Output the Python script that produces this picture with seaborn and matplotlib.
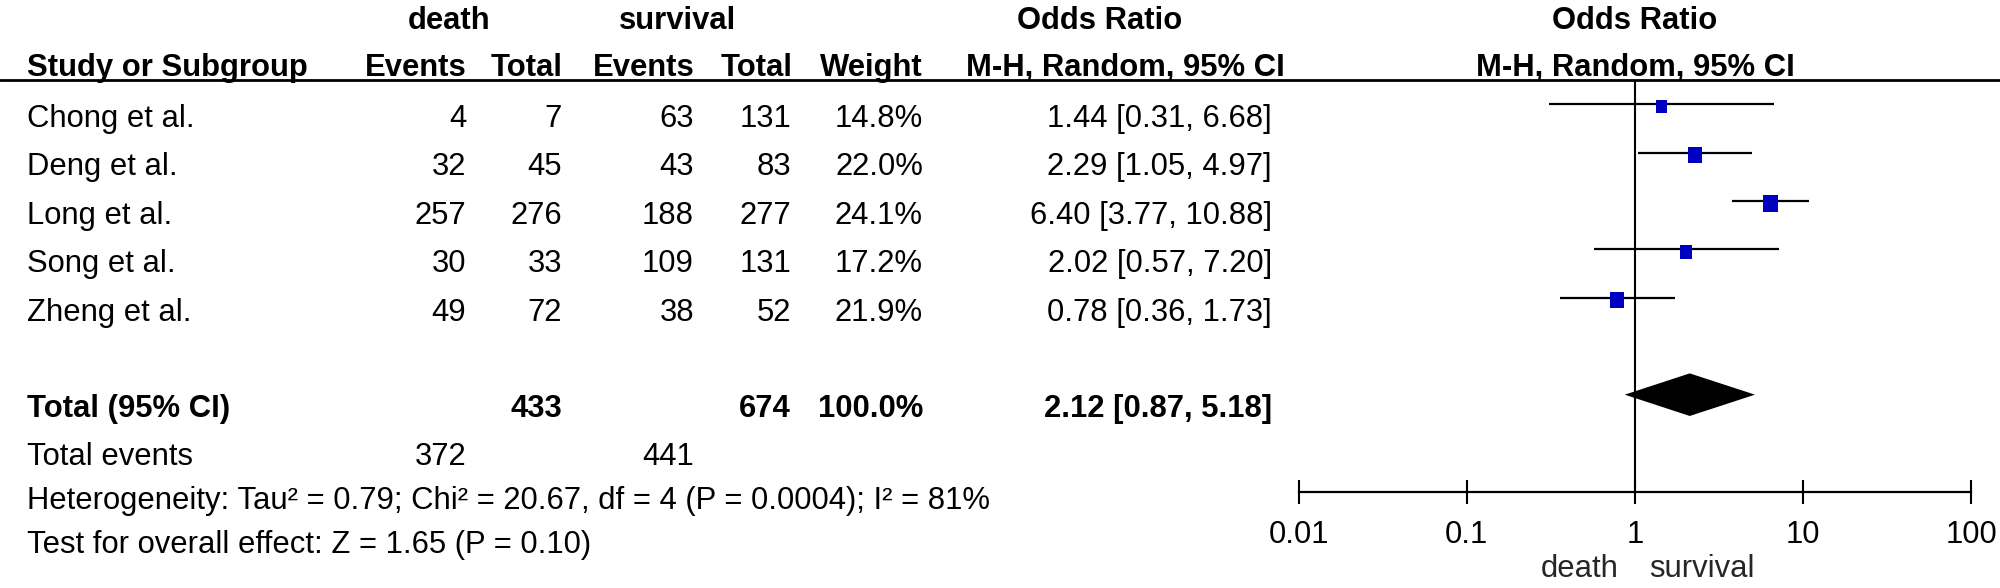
import matplotlib
matplotlib.use("Agg")
import numpy as np
import matplotlib.pyplot as plt
import matplotlib.transforms as mtransforms
from matplotlib.ticker import NullLocator
import seaborn as sns

# data
studies = ["Chong et al.", "Deng et al.", "Long et al.", "Song et al.", "Zheng et al."]
death_events = [4, 32, 257, 30, 49]
death_total = [7, 45, 276, 33, 72]
surv_events = [63, 43, 188, 109, 38]
surv_total = [131, 83, 277, 131, 52]
weights = [14.8, 22.0, 24.1, 17.2, 21.9]
odds = [1.44, 2.29, 6.40, 2.02, 0.78]
ci_low = [0.31, 1.05, 3.77, 0.57, 0.36]
ci_high = [6.68, 4.97, 10.88, 7.20, 1.73]

total_or, total_low, total_high = 2.12, 0.87, 5.18
total_death, total_surv, total_weight = 433, 674, 100.0
events_death, events_surv = 372, 441
heterogeneity = "Heterogeneity: Tau² = 0.79; Chi² = 20.67, df = 4 (P = 0.0004); I² = 81%"
overall = "Test for overall effect: Z = 1.65 (P = 0.10)"
tick_vals = [0.01, 0.1, 1, 10, 100]
tick_labels = ["0.01", "0.1", "1", "10", "100"]

sns.set_theme(style="white")
plt.rcParams["font.family"] = ["Liberation Sans", "DejaVu Sans"]
FS = 22.3
BLUE = "#0000C0"

W, H = 2000, 588
fig = plt.figure(figsize=(W / 100, H / 100), dpi=100)

# background axes in pixel units for the table part
tab = fig.add_axes([0, 0, 1, 1])
tab.set_xlim(0, W)
tab.set_ylim(H, 0)
tab.axis("off")

# forest plot axes (log scale)
x0, x1, y_top, y_bot = 1298.8, 1971.0, 80.0, 491.5
fp = fig.add_axes([x0 / W, 1 - y_bot / H, (x1 - x0) / W, (y_bot - y_top) / H])
fp.patch.set_alpha(0)
fp.set_xscale("log")

rows = np.arange(len(studies))
total_row = len(studies) + 1

fp.hlines(rows, ci_low, ci_high, color="black", lw=1.6, zorder=2)
sizes = [(2.46 * np.sqrt(w)) ** 2 for w in weights]
box = [(-0.87, -1), (0.87, -1), (0.87, 1), (-0.87, 1), (-0.87, -1)]
sns.scatterplot(x=odds, y=rows + 0.05, ax=fp, marker=box, s=sizes, color=BLUE,
                edgecolor="none", linewidth=0, zorder=3, legend=False)

h = 0.44
fp.fill([total_low, total_or, total_high, total_or],
        [total_row, total_row - h, total_row, total_row + h], color="black", lw=0, zorder=3)
fp.axvline(1, color="black", lw=1.5, zorder=1)

fp.set_xlim(0.01, 100)
fp.set_ylim(8, -0.5)
for s in ["top", "left", "right"]:
    fp.spines[s].set_visible(False)
fp.spines["bottom"].set_color("black")
fp.spines["bottom"].set_linewidth(1.6)
fp.set_xticks(tick_vals)
fp.set_xticklabels(tick_labels, fontsize=FS, color="black")
fp.xaxis.set_minor_locator(NullLocator())
fp.tick_params(axis="x", bottom=True, direction="inout", length=17, width=1.5, pad=12, colors="black")
fp.set_yticks([])
fp.set_xlabel("")
fp.set_ylabel("")

fp.annotate("death", xy=(1, 9.77), xytext=(-12, 0), textcoords="offset points",
            ha="right", va="baseline", fontsize=FS, annotation_clip=False)
fp.annotate("survival", xy=(1, 9.77), xytext=(10, 0), textcoords="offset points",
            ha="left", va="baseline", fontsize=FS, annotation_clip=False)

# header rule across the whole width
tab.axhline(y_top, color="black", lw=2)

blend = mtransforms.blended_transform_factory(tab.transData, fp.transData)
fp_blend = fp.transData


def put(x, row, s, ha="right", bold=False, off=0.47, trans=blend):
    tab.text(x, row + off, s, ha=ha, va="baseline", fontsize=FS, color="black",
             fontweight="bold" if bold else "normal", transform=trans)


# column anchors (px)
c_study, c_dev, c_dtot, c_sev, c_stot, c_w, c_ci = 27, 466, 562, 694, 791, 923, 1272
HOFF = 0.45

# headers
put(449, -2, "death", ha="center", bold=True, off=HOFF)
put(678, -2, "survival", ha="center", bold=True, off=HOFF)
put(1100, -2, "Odds Ratio", ha="center", bold=True, off=HOFF)
put(1, -2, "Odds Ratio", ha="center", bold=True, off=HOFF, trans=fp_blend)
put(c_study, -1, "Study or Subgroup", ha="left", bold=True, off=HOFF - 0.03)
put(467, -1, "Events", bold=True, off=HOFF - 0.03)
put(563, -1, "Total", bold=True, off=HOFF - 0.03)
put(695, -1, "Events", bold=True, off=HOFF - 0.03)
put(793, -1, "Total", bold=True, off=HOFF - 0.03)
put(923, -1, "Weight", bold=True, off=HOFF - 0.03)
put(1285, -1, "M-H, Random, 95% CI", bold=True, off=HOFF - 0.03)
put(1, -1, "M-H, Random, 95% CI", ha="center", bold=True, off=HOFF - 0.03, trans=fp_blend)

# study rows
for i, name in enumerate(studies):
    put(c_study, i, name, ha="left")
    put(c_dev, i, str(death_events[i]))
    put(c_dtot, i, str(death_total[i]))
    put(c_sev, i, str(surv_events[i]))
    put(c_stot, i, str(surv_total[i]))
    put(c_w, i, f"{weights[i]:.1f}%")
    put(c_ci, i, f"{odds[i]:.2f} [{ci_low[i]:.2f}, {ci_high[i]:.2f}]")

# totals
put(c_study, total_row, "Total (95% CI)", ha="left", bold=True)
put(c_dtot, total_row, str(total_death), bold=True)
put(c_stot, total_row, str(total_surv), bold=True)
put(c_w, total_row, f"{total_weight:.1f}%", bold=True)
put(c_ci, total_row, f"{total_or:.2f} [{total_low:.2f}, {total_high:.2f}]", bold=True)

# footer lines sit a little closer together
put(c_study, total_row + 1, "Total events", ha="left", off=0.45)
put(c_dev, total_row + 1, str(events_death), off=0.45)
put(c_sev, total_row + 1, str(events_surv), off=0.45)
put(c_study, total_row + 2, heterogeneity, ha="left", off=0.37)
put(c_study, total_row + 3, overall, ha="left", off=0.27)

fig.savefig("out.png", dpi=100, facecolor="white")
